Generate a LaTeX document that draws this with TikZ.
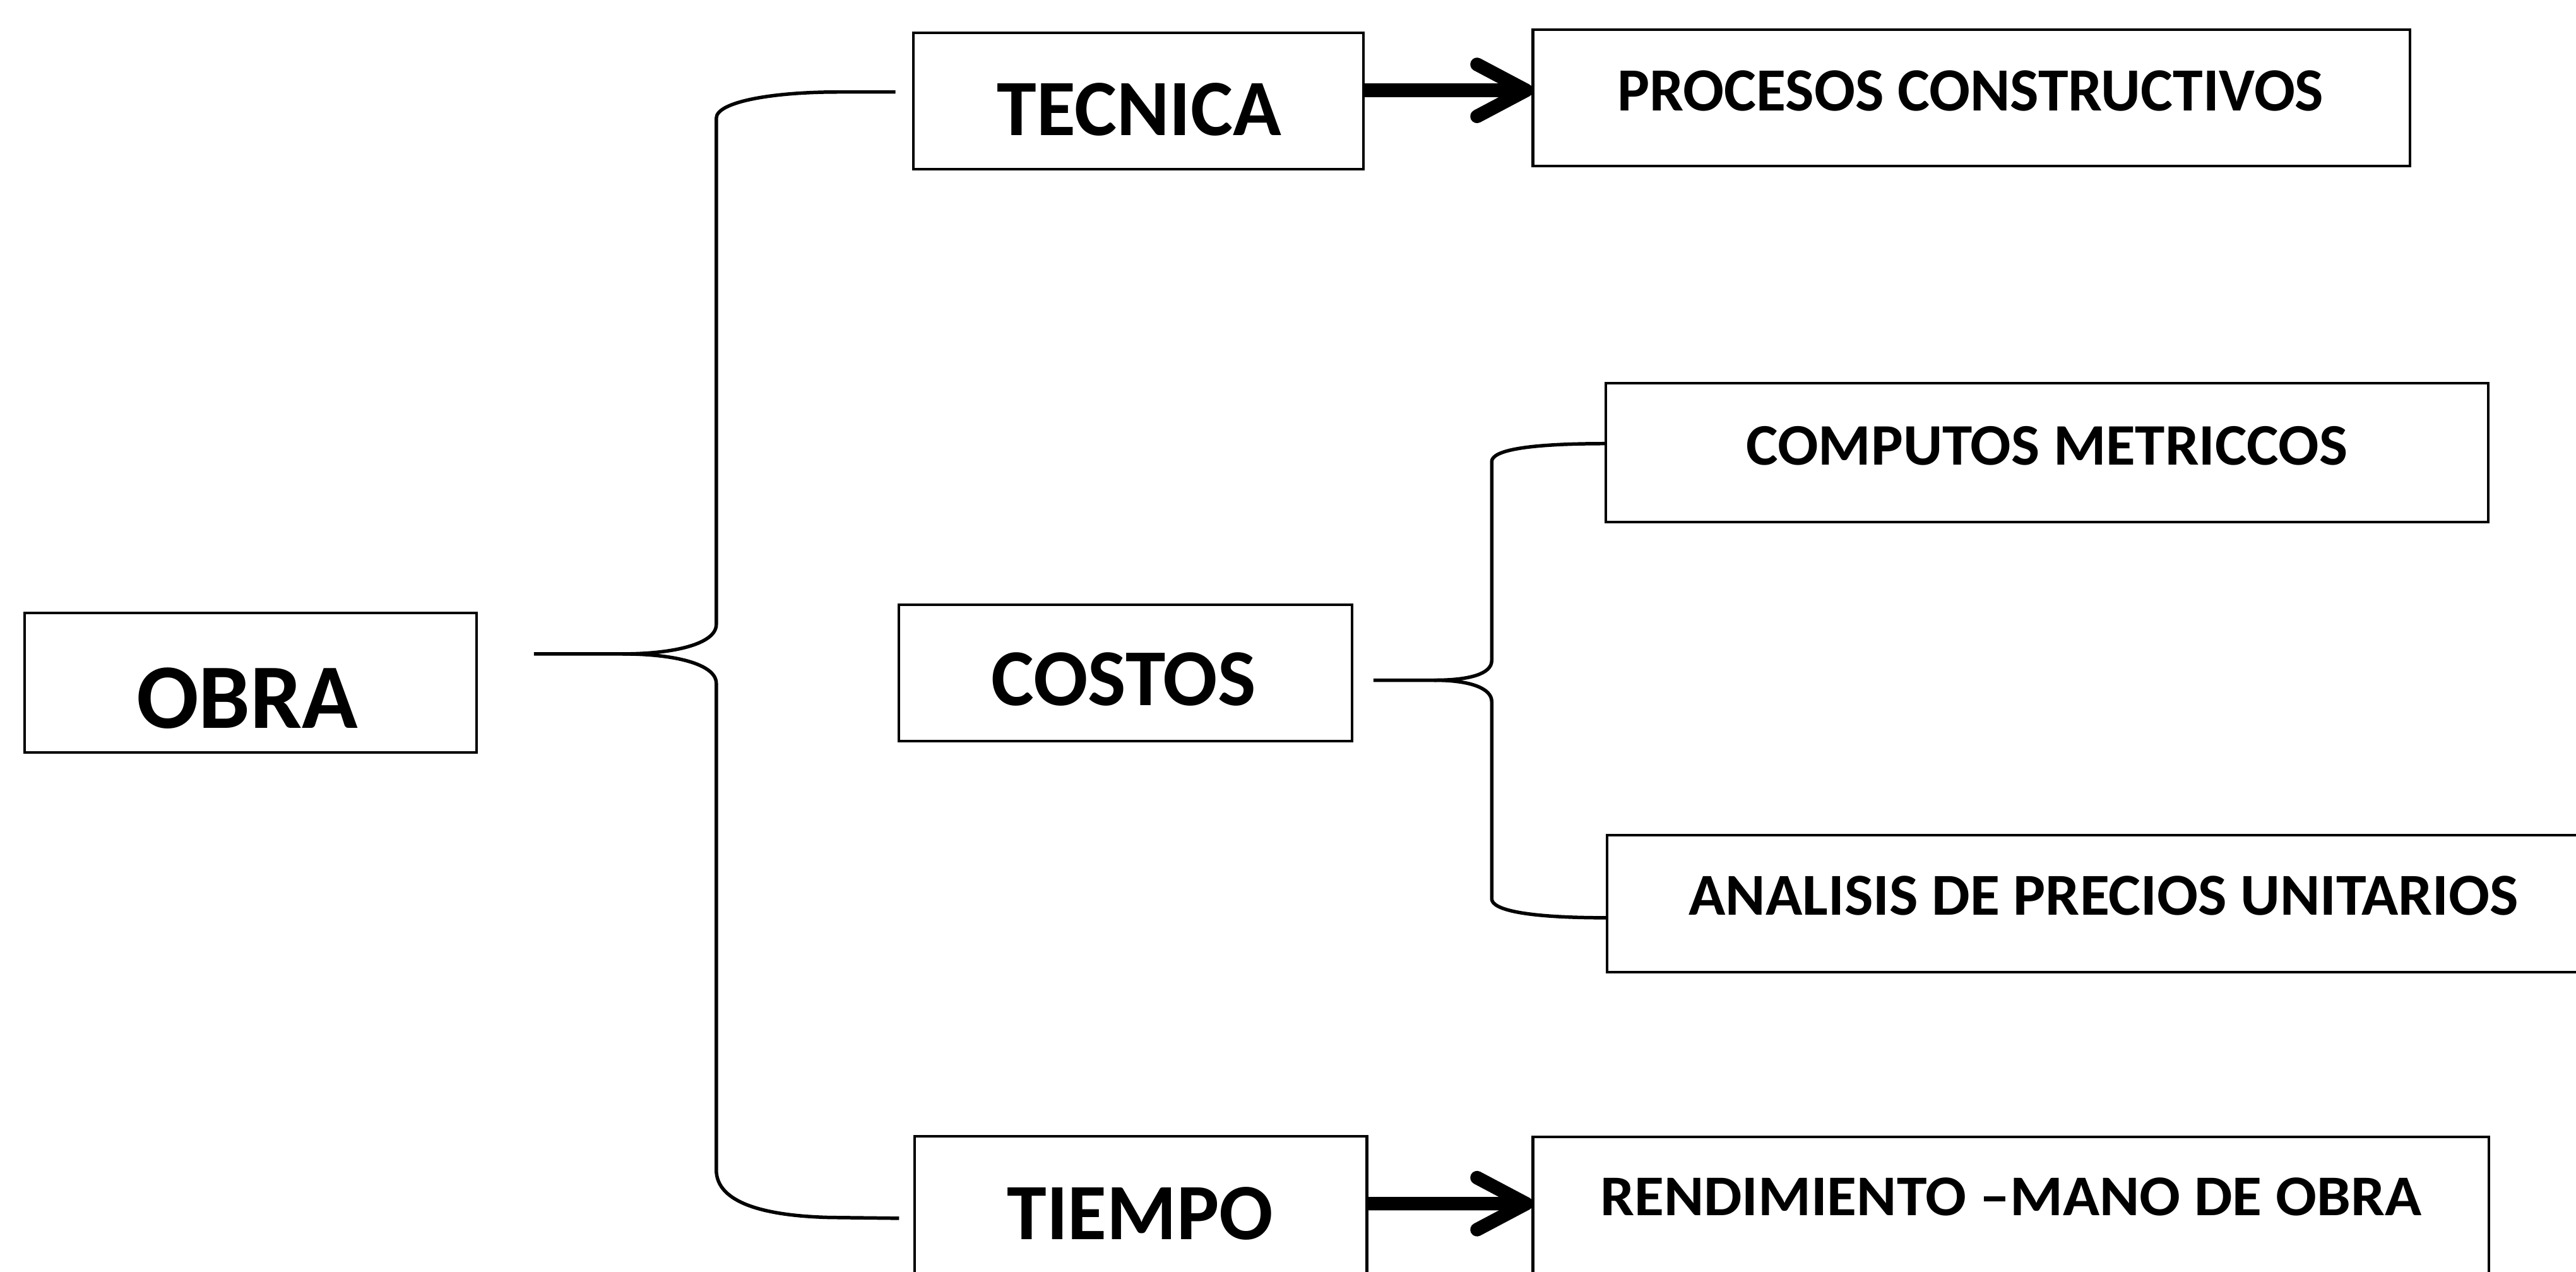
\documentclass[tikz,border=0pt]{standalone}
\usepackage{fontspec}
\setmainfont{Carlito}
\usetikzlibrary{arrows.meta,calc}
\begin{document}
\begin{tikzpicture}[x=0.02cm, y=-0.02cm,
  box/.style={draw=black, line width=0.9pt, inner sep=0pt, outer sep=0pt},
  txt/.style={inner sep=0pt, outer sep=0pt, font=\bfseries},
  brace/.style={draw=black, line width=1.2pt, line join=round},
  thickarrow/.style={draw=black, line width=4.7pt, -{Straight Barb[round, length=17pt, width=18pt]}}]
\useasboundingbox (0,0) rectangle (1568,774);
\clip (0,0) rectangle (1568,774);
\fill[white] (0,0) rectangle (1568,774);
% boxes
\node[box, minimum width=5.5cm,   minimum height=1.7cm]   (obra)     at (152.5,415.5) {};
\node[box, minimum width=5.48cm,  minimum height=1.66cm]  (tecnica)  at (693,61.5) {};
\node[box, minimum width=10.68cm, minimum height=1.66cm]  (procesos) at (1200,59.5) {};
\node[box, minimum width=10.74cm, minimum height=1.69cm]  (computos) at (1246,275.4) {};
\node[box, minimum width=5.52cm,  minimum height=1.66cm]  (costos)   at (685,409.5) {};
\node[box, minimum width=12.44cm, minimum height=1.674cm] (analisis) at (1289,550) {};
\node[box, minimum width=5.506cm, minimum height=2.168cm] (tiempo)   at (694.4,745.8) {};
\node[box, minimum width=11.64cm, minimum height=2.16cm]  (rend)     at (1224,746) {};
% texts
\node[txt] (obra-t)     at (150.5,425)  {\resizebox{2.70cm}{!}{OBRA}};
\node[txt] (tecnica-t)  at (693.5,66.5) {\resizebox{3.46cm}{!}{TECNICA}};
\node[txt] (procesos-t) at (1199.5,55.5){\resizebox{8.6cm}{0.49cm}{PROCESOS CONSTRUCTIVOS}};
\node[txt] (computos-t) at (1246,271.5) {\resizebox{7.32cm}{0.47cm}{COMPUTOS METRICCOS}};
\node[txt] (costos-t)   at (684,413.5)  {\resizebox{3.22cm}{!}{COSTOS}};
\node[txt] (analisis-t) at (1280.5,545.3){\resizebox{10.1cm}{0.475cm}{ANALISIS DE PRECIOS UNITARIOS}};
\node[txt] (tiempo-t)   at (694,738.6)  {\resizebox{3.24cm}{!}{TIEMPO}};
\node[txt] (rend-t)     at (1224,728.3) {\resizebox{10.0cm}{0.46cm}{RENDIMIENTO –MANO DE OBRA}};
% big brace
\coordinate (bigtip) at (379,398);
\draw[brace] ($(obra.east)+(35,-17.5)$) -- (bigtip)
  .. controls (410,398) and (436,392) .. (436,380) -- (436,72)
  .. controls (436,62) and (470,56) .. (510,56) -- ($(tecnica.west)+(-11,-5.5)$);
\draw[brace] (bigtip)
  .. controls (410,398) and (436,404) .. (436,416) -- (436,712)
  .. controls (436,732) and (465,740) .. (505,741) -- ($(tiempo.west)+(-9.5,-4.3)$);
% small brace
\coordinate (smalltip) at (873,414);
\draw[brace] ($(costos.east)+(13,4.5)$) -- (smalltip)
  .. controls (895,414) and (908,410) .. (908,402) -- (908,281)
  .. controls (908,274) and (930,270) .. ($(computos.west)+(0,-5.4)$);
\draw[brace] (smalltip)
  .. controls (895,414) and (908,419) .. (908,427) -- (908,547)
  .. controls (908,554) and (930,558.6) .. ($(analisis.west)+(0,8.6)$);
% arrows
\draw[thickarrow] ($(tecnica.east)+(0,-6.5)$) -- ($(procesos.west)+(0,-4.5)$);
\draw[thickarrow] ($(tiempo.east)+(0,-13.2)$) -- ($(rend.west)+(0,-13.4)$);
\end{tikzpicture}
\end{document}
